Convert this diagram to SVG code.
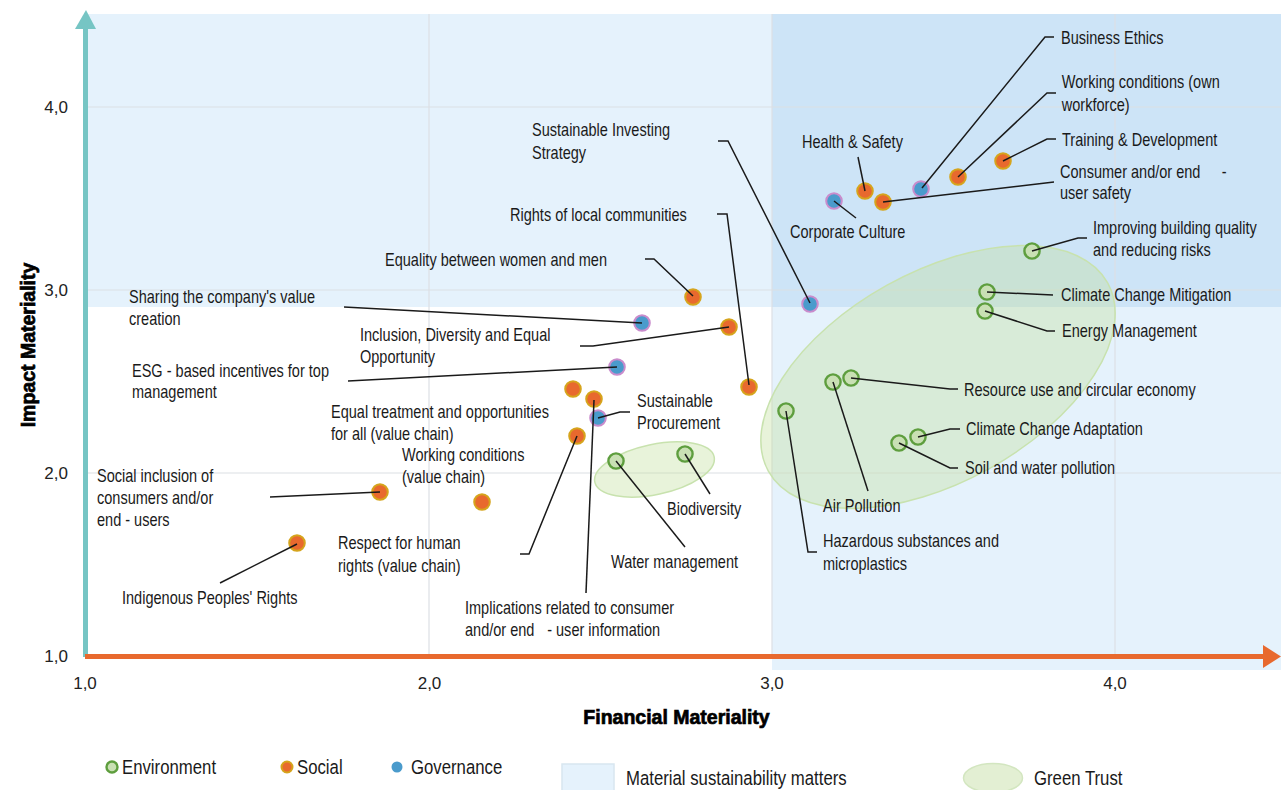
<svg xmlns="http://www.w3.org/2000/svg" width="1281" height="790" viewBox="0 0 1281 790">
<style>
.bg{fill:#e5f2fc}
.bgd{fill:#cde4f7}
.grid{stroke:#dcdfe4;stroke-width:1.2;fill:none}
.gt{fill:#c3df9f;fill-opacity:0.38;stroke:#c8e2ae;stroke-width:1.5}
.s{fill:#e8692e;stroke:#d6a41c;stroke-width:2}
.g{fill:#4a9bcc;stroke:#c98ccc;stroke-width:2}
.e{fill:#c9e0b4;stroke:#5e9e3e;stroke-width:2.4}
.lbl{font-family:"Liberation Sans",Arial,sans-serif;font-size:17.5px;fill:#1a1a1a;transform-box:fill-box;transform-origin:0 0;transform:scaleX(0.83)}
.leg{font-family:"Liberation Sans",Arial,sans-serif;font-size:19.5px;fill:#1a1a1a;transform-box:fill-box;transform-origin:0 0;transform:scaleX(0.86)}
.tick{font-family:"Liberation Sans",sans-serif;font-size:17px;fill:#222}
.title{font-family:"Liberation Sans",sans-serif;font-size:19.5px;font-weight:bold;fill:#000;stroke:#000;stroke-width:0.7}
.ld{fill:none;stroke:#1a1a1a;stroke-width:1.5}
</style>
<g id="background">
<rect class="bg" x="88" y="14" width="1193" height="293"/>
<rect class="bg" x="772" y="14" width="509" height="656"/>
<rect class="bgd" x="772" y="14" width="509" height="293"/>
<path class="grid" d="M88,107H1281M88,290H1281M88,473H1281M429,14V656M772,14V656M1115,14V656"/>
</g>
<g id="green-trust">
<ellipse class="gt" cx="938" cy="377" rx="194" ry="105" transform="rotate(-29 938 377)"/>
<ellipse class="gt" cx="654.5" cy="469.5" rx="61" ry="25" transform="rotate(-12 654.5 469.5)"/>
</g>
<g id="axes">
<line x1="85.5" y1="657" x2="85.5" y2="27" stroke="#76c5c4" stroke-width="5"/>
<polygon points="75,29 86,10 96,29" fill="#76c5c4"/>
<line x1="85" y1="656.5" x2="1265" y2="656.5" stroke="#e8692e" stroke-width="5"/>
<polygon points="1263,645 1281,656.5 1263,668" fill="#e8692e"/>
<g class="tick" text-anchor="end">
<text x="68" y="113">4,0</text>
<text x="68" y="296">3,0</text>
<text x="68" y="479">2,0</text>
<text x="68" y="662">1,0</text>
</g>
<g class="tick" text-anchor="middle">
<text x="85" y="689">1,0</text>
<text x="429.5" y="689">2,0</text>
<text x="772" y="689">3,0</text>
<text x="1115" y="689">4,0</text>
</g>
<text class="title" x="676.5" y="724" text-anchor="middle">Financial Materiality</text>
<text class="title" x="0" y="0" text-anchor="middle" transform="translate(35 345) rotate(-90)">Impact Materiality</text>
</g>
<g id="n-business-ethics"><circle class="g" cx="921" cy="189" r="7.8"/><text class="lbl" x="1061" y="44">Business Ethics</text></g>
<g id="n-working-own"><circle class="s" cx="958" cy="177" r="7.8"/><text class="lbl" x="1062" y="88">Working conditions (own<tspan x="1062" dy="23">workforce)</tspan></text></g>
<g id="n-training"><circle class="s" cx="1003" cy="161" r="7.8"/><text class="lbl" x="1062" y="146">Training &amp; Development</text></g>
<g id="n-consumer-safety"><circle class="s" cx="883" cy="202" r="7.8"/><text class="lbl" x="1060" y="178">Consumer and/or end<tspan x="1255">-</tspan><tspan x="1060" dy="21">user safety</tspan></text></g>
<g id="n-health-safety"><circle class="s" cx="865" cy="191" r="7.8"/><text class="lbl" x="802" y="148">Health &amp; Safety</text></g>
<g id="n-corporate-culture"><circle class="g" cx="834" cy="201" r="7.8"/><text class="lbl" x="790" y="238">Corporate Culture</text></g>
<g id="n-sust-investing"><circle class="g" cx="810" cy="304" r="7.8"/><text class="lbl" x="532" y="136">Sustainable Investing<tspan x="532" dy="23">Strategy</tspan></text></g>
<g id="n-local-communities"><circle class="s" cx="749" cy="387" r="7.8"/><text class="lbl" x="510" y="221">Rights of local communities</text></g>
<g id="n-equality"><circle class="s" cx="693" cy="297" r="7.8"/><text class="lbl" x="385" y="266">Equality between women and men</text></g>
<g id="n-sharing-value"><circle class="g" cx="642" cy="323" r="7.8"/><text class="lbl" x="129" y="303">Sharing the company's value<tspan x="129" dy="22">creation</tspan></text></g>
<g id="n-inclusion"><circle class="s" cx="729" cy="327" r="7.8"/><text class="lbl" x="360" y="341">Inclusion, Diversity and Equal<tspan x="360" dy="22">Opportunity</tspan></text></g>
<g id="n-esg-incentives"><circle class="g" cx="617" cy="367" r="7.8"/><text class="lbl" x="132" y="377">ESG - based incentives for top<tspan x="132" dy="21">management</tspan></text></g>
<g id="n-equal-treatment"><circle class="s" cx="573" cy="389" r="7.8"/><text class="lbl" x="331" y="418">Equal treatment and opportunities<tspan x="331" dy="22">for all (value chain)</tspan></text></g>
<g id="n-implications"><circle class="s" cx="594" cy="399" r="7.8"/><text class="lbl" x="465" y="614">Implications related to consumer<tspan x="465" dy="22">and/or end</tspan><tspan x="564">- user information</tspan></text></g>
<g id="n-sust-procurement"><circle class="g" cx="598" cy="418" r="7.8"/><text class="lbl" x="637" y="407">Sustainable<tspan x="637" dy="22">Procurement</tspan></text></g>
<g id="n-human-rights"><circle class="s" cx="577" cy="436" r="7.8"/><text class="lbl" x="338" y="549">Respect for human<tspan x="338" dy="23">rights (value chain)</tspan></text></g>
<g id="n-working-value-chain"><circle class="s" cx="482" cy="502" r="7.8"/><text class="lbl" x="402" y="461">Working conditions<tspan x="402" dy="22">(value chain)</tspan></text></g>
<g id="n-social-inclusion"><circle class="s" cx="380" cy="492" r="7.8"/><text class="lbl" x="97" y="482">Social inclusion of<tspan x="97" dy="22">consumers and/or</tspan><tspan x="97" dy="22">end - users</tspan></text></g>
<g id="n-indigenous"><circle class="s" cx="297" cy="543" r="7.8"/><text class="lbl" x="122" y="604">Indigenous Peoples' Rights</text></g>
<g id="n-water"><circle class="e" cx="616" cy="461" r="7.6"/><text class="lbl" x="611" y="568">Water management</text></g>
<g id="n-biodiversity"><circle class="e" cx="685" cy="454" r="7.6"/><text class="lbl" x="667" y="515">Biodiversity</text></g>
<g id="n-air"><circle class="e" cx="833" cy="382" r="7.6"/><text class="lbl" x="823" y="512">Air Pollution</text></g>
<g id="n-resource"><circle class="e" cx="851" cy="378" r="7.6"/><text class="lbl" x="964" y="396">Resource use and circular economy</text></g>
<g id="n-hazardous"><circle class="e" cx="786" cy="411" r="7.6"/><text class="lbl" x="823" y="547">Hazardous substances and<tspan x="823" dy="23">microplastics</tspan></text></g>
<g id="n-cc-adaptation"><circle class="e" cx="918" cy="437" r="7.6"/><text class="lbl" x="966" y="435">Climate Change Adaptation</text></g>
<g id="n-soil-water"><circle class="e" cx="899" cy="443" r="7.6"/><text class="lbl" x="965" y="474">Soil and water pollution</text></g>
<g id="n-cc-mitigation"><circle class="e" cx="987" cy="292" r="7.6"/><text class="lbl" x="1061" y="301">Climate Change Mitigation</text></g>
<g id="n-energy"><circle class="e" cx="985" cy="311" r="7.6"/><text class="lbl" x="1062" y="337">Energy Management</text></g>
<g id="n-building"><circle class="e" cx="1032" cy="251" r="7.6"/><text class="lbl" x="1093" y="234">Improving building quality<tspan x="1093" dy="22">and reducing risks</tspan></text></g>
<g id="connectors" class="ld">
<path d="M922,188L1045,37H1054"/>
<path d="M958,177L1047,93H1056"/>
<path d="M1003,161L1047,139H1056"/>
<path d="M883,202L1054,182"/>
<path d="M865,191L858,157"/>
<path d="M834,201L856,218"/>
<path d="M718,141H728L810,303"/>
<path d="M717,214H727L749,385"/>
<path d="M645,259H654L693,296"/>
<path d="M344,307L642,323"/>
<path d="M580,346H593L729,327"/>
<path d="M348,381L617,367"/>
<path d="M594,400L586,593"/>
<path d="M598,418L620,412H630"/>
<path d="M577,436L529,554H520"/>
<path d="M270,497L380,492"/>
<path d="M297,544L220,583"/>
<path d="M616,461L685,547"/>
<path d="M685,454L710,494"/>
<path d="M833,382L868,491"/>
<path d="M851,378L950,389H958"/>
<path d="M786,411L808,552H817"/>
<path d="M918,437L950,429H960"/>
<path d="M899,443L950,468H958"/>
<path d="M987,292L1053,295"/>
<path d="M985,311L1047,331H1055"/>
<path d="M1032,251L1078,238H1087"/>
</g>
<g id="legend">
<circle class="e" cx="112" cy="767" r="5.5" stroke-width="2"/>
<text class="leg" x="122" y="774">Environment</text>
<circle class="s" cx="287" cy="767" r="5.5"/>
<text class="leg" x="297" y="774">Social</text>
<circle cx="397" cy="767" r="5.5" fill="#4a9bcc"/>
<text class="leg" x="411" y="774">Governance</text>
<rect x="562" y="764" width="52" height="30" fill="#e5f2fc" stroke="#d8e6f0" stroke-width="1.5"/>
<text class="leg" x="626" y="785">Material sustainability matters</text>
<ellipse cx="993" cy="778" rx="29.5" ry="14.5" fill="#e3efd3" stroke="#d3e6c0" stroke-width="1.5"/>
<text class="leg" x="1034" y="785">Green Trust</text>
</g>
</svg>
